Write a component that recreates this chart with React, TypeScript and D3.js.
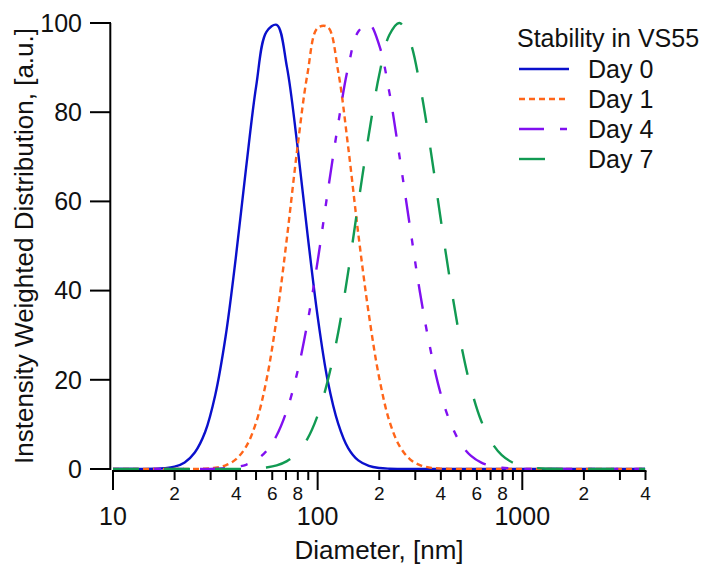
import React from "react";
import * as d3 from "d3";

// log-spaced diameter bins, nm
const diameters = [
  10, 11.2, 12.6, 14.1, 15.8, 17.8, 20, 22.4, 25.1, 28.2, 31.6, 35.5, 39.8, 44.7, 50.1, 56.2, 63.1, 70.8, 79.4,
  89.1, 100, 112, 126, 141, 158, 178, 200, 224, 251, 282, 316, 355, 398, 447, 501, 562, 631, 708, 794, 891, 1000,
  1122, 1259, 1413, 1585, 1778, 1995, 2239, 2512, 2818, 3162, 3548, 3981,
];

const day0 = [
  0, 0, 0, 0.01, 0.05, 0.17, 0.53, 1.48, 3.71, 8.3, 16.6, 29.7, 47.3, 67.5, 85.9, 98.0, 99.6, 90.1, 73.0, 52.9, 34.2,
  19.8, 10.2, 4.7, 1.93, 0.71, 0.23, 0.07, 0.02, 0, 0, 0, 0, 0, 0, 0, 0, 0, 0, 0, 0, 0, 0, 0, 0, 0, 0, 0, 0, 0, 0, 0, 0,
];

const day1 = [
  0, 0, 0, 0, 0, 0, 0, 0.01, 0.02, 0.09, 0.29, 0.83, 2.15, 5.01, 10.5, 19.9, 33.9, 51.9, 71.5, 88.5, 98.9, 99.1, 89.1,
  72.2, 52.7, 34.6, 20.4, 10.8, 5.18, 2.22, 0.86, 0.3, 0.09, 0.03, 0, 0, 0, 0, 0, 0, 0, 0, 0, 0, 0, 0, 0, 0, 0, 0, 0, 0, 0,
];

const day4 = [
  0, 0, 0, 0, 0, 0, 0, 0, 0.01, 0.02, 0.07, 0.17, 0.42, 0.95, 2.03, 4.05, 7.56, 13.2, 21.5, 32.7, 46.6, 62.1, 77.4,
  90.1, 98.1, 99.8, 95.0, 84.5, 70.2, 54.6, 39.7, 27.0, 17.1, 10.2, 5.65, 2.93, 1.42, 0.65, 0.27, 0.11, 0.04, 0.01, 0,
  0, 0, 0, 0, 0, 0, 0, 0, 0, 0,
];

const day7 = [
  0, 0, 0, 0, 0, 0, 0, 0, 0, 0, 0, 0.01, 0.02, 0.05, 0.14, 0.35, 0.81, 1.76, 3.57, 6.76, 12.0, 19.8, 30.6, 44.2, 59.6,
  75.1, 88.4, 97.3, 100, 96.0, 86.1, 72.1, 56.5, 41.3, 28.2, 18.0, 10.7, 5.98, 3.11, 1.51, 0.69, 0.29, 0.12, 0.04,
  0.01, 0, 0, 0, 0, 0, 0, 0, 0,
];

const seriesNames = ["Day 0", "Day 1", "Day 4", "Day 7"];
const yTicks = [0, 20, 40, 60, 80, 100];
const legendTitle = "Stability in VS55";

const FONT = "'Liberation Sans', Arial, sans-serif";

export default function App() {
  const width = 707;
  const height = 568;

  const x = d3.scaleLog().domain([10, 4000]).range([113, 645.5]);
  const y = d3.scaleLinear().domain([0, 100]).range([469, 23]);

  const line = d3
    .line<number>()
    .x((_, i) => x(diameters[i]))
    .y((v) => y(v))
    .curve(d3.curveCatmullRom.alpha(0.5));

  const series = [
    { name: seriesNames[0], values: day0, color: "#0a10cc", dash: "none" },
    { name: seriesNames[1], values: day1, color: "#ff6519", dash: "6,4" },
    { name: seriesNames[2], values: day4, color: "#8010f0", dash: "25,16,7,16,7,16" },
    { name: seriesNames[3], values: day7, color: "#119a52", dash: "26,25" },
  ];

  const xAxisY = 471;
  const xTicks = x.ticks();

  return (
    <svg
      width={width}
      height={height}
      style={{ position: "absolute", left: 0, top: 0, background: "#fff" }}
      fontFamily={FONT}
    >
      {/* curves */}
      {series.map((s) => (
        <path
          key={s.name}
          d={line(s.values) ?? ""}
          fill="none"
          stroke={s.color}
          strokeWidth={2.4}
          strokeDasharray={s.dash}
        />
      ))}

      {/* y axis */}
      <line x1={110.3} x2={110.3} y1={y(100)} y2={y(0) + 1} stroke="#000" strokeWidth={2} />
      {yTicks.map((t) => (
        <g key={t}>
          <line x1={90} x2={111} y1={y(t)} y2={y(t)} stroke="#000" strokeWidth={2} />
          <text x={82} y={y(t)} dy="0.35em" textAnchor="end" fontSize={25} fill="#111">
            {t}
          </text>
        </g>
      ))}
      <text
        transform={`translate(24,${(y(0) + y(100)) / 2}) rotate(-90)`}
        textAnchor="middle"
        dy="0.35em"
        fontSize={26}
        fill="#111"
      >
        Instensity Weighted Distribution, [a.u.]
      </text>

      {/* x axis */}
      <line x1={112} x2={x(4000) + 1} y1={xAxisY} y2={xAxisY} stroke="#000" strokeWidth={2} />
      {xTicks.map((t) => {
        const mant = Math.round(t / Math.pow(10, Math.floor(Math.log10(t) + 1e-9)));
        const major = mant === 1;
        const labelled = major || mant % 2 === 0;
        return (
          <g key={t}>
            <line
              x1={x(t)}
              x2={x(t)}
              y1={xAxisY}
              y2={xAxisY + (major ? 19 : 9)}
              stroke="#000"
              strokeWidth={2}
            />
            {labelled && (
              <text
                x={x(t)}
                y={major ? 525 : 500}
                textAnchor="middle"
                fontSize={major ? 25 : 19}
                fill="#111"
              >
                {major ? t : mant}
              </text>
            )}
          </g>
        );
      })}
      <text x={379} y={559} textAnchor="middle" fontSize={26} fill="#111">
        Diameter, [nm]
      </text>

      {/* legend */}
      <text x={517} y={47} fontSize={25} fill="#111">
        {legendTitle}
      </text>
      {series.map((s, i) => {
        const ly = 69 + i * 30;
        return (
          <g key={s.name}>
            <line x1={519} x2={569} y1={ly} y2={ly} stroke={s.color} strokeWidth={2.4} strokeDasharray={s.dash} />
            <text x={588} y={ly} dy="0.36em" fontSize={25} fill="#111">
              {s.name}
            </text>
          </g>
        );
      })}
    </svg>
  );
}
